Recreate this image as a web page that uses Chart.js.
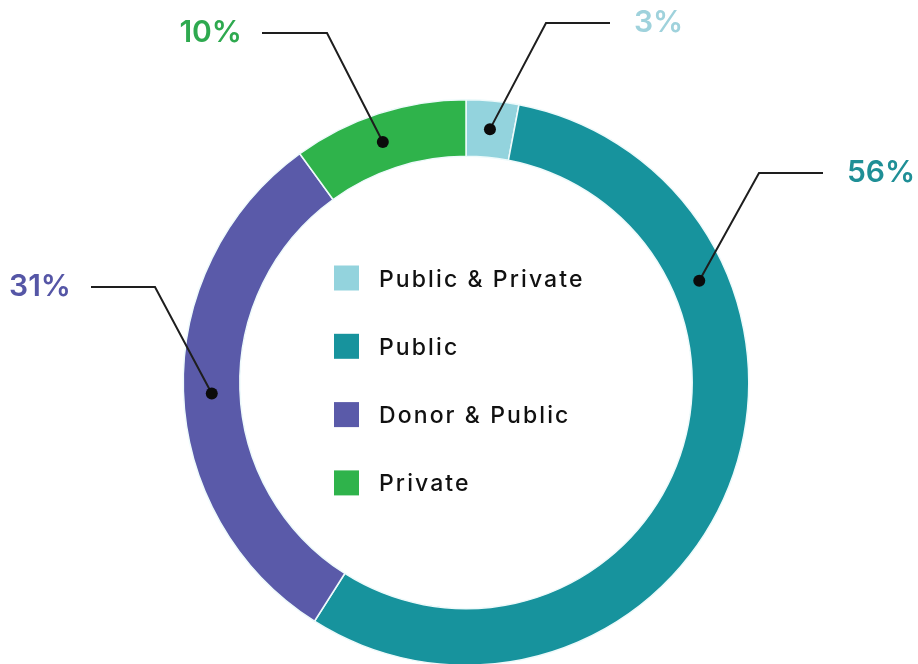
<!DOCTYPE html>
<html>
<head>
<meta charset="utf-8">
<title>Funding sources</title>
<script src="https://cdn.jsdelivr.net/npm/chart.js@4.4.1/dist/chart.umd.min.js"></script>
<style>
  html, body { margin: 0; padding: 0; background: #ffffff; overflow: hidden; }
  canvas { display: block; }
</style>
</head>
<body>
<canvas id="c" width="918" height="666"></canvas>
<script>
const categories = ['Public & Private', 'Public', 'Donor & Public', 'Private'];
const shares = [3, 56, 31, 10];
const valueLabels = ['3%', '56%', '31%', '10%'];
const sliceColors = ['#93d3dd', '#17939d', '#5a5aa9', '#2fb34b'];
const labelColors = ['#9fd2dc', '#1f8f96', '#5556a6', '#2ea94f'];

// Leader lines: dot position along the slice (0..1), elbow point, end of the horizontal run
const leaders = [
  { t: 0.5,   elbow: [546, 23],  end: [610, 23],  side: 'right' },
  { t: 0.276, elbow: [759, 173], end: [823, 173], side: 'right' },
  { t: 0.494, elbow: [155, 287], end: [91, 287],  side: 'left'  },
  { t: 0.47,  elbow: [327, 33],  end: [262, 33],  side: 'left'  }
];

const LABEL_FONT = '600 30px Inter';
const LEGEND_FONT = '500 23px Inter';

// Percent call-outs with leader lines and dots on the ring
const calloutPlugin = {
  id: 'callouts',
  afterDatasetsDraw(chart) {
    const ctx = chart.ctx;
    const arcs = chart.getDatasetMeta(0).data;
    arcs.forEach((arc, i) => {
      const L = leaders[i];
      const p = arc.getProps(['x', 'y', 'startAngle', 'endAngle', 'innerRadius', 'outerRadius'], true);
      const a = p.startAngle + L.t * (p.endAngle - p.startAngle);
      const r = (p.innerRadius + p.outerRadius) / 2;
      const dx = p.x + r * Math.cos(a);
      const dy = p.y + r * Math.sin(a);

      ctx.save();
      ctx.strokeStyle = '#1e1e1e';
      ctx.lineWidth = 2;
      ctx.lineJoin = 'miter';
      ctx.beginPath();
      ctx.moveTo(dx, dy);
      ctx.lineTo(L.elbow[0], L.elbow[1]);
      ctx.lineTo(L.end[0], L.end[1]);
      ctx.stroke();

      ctx.fillStyle = '#0b0b0b';
      ctx.beginPath();
      ctx.arc(dx, dy, 6, 0, Math.PI * 2);
      ctx.fill();

      ctx.font = LABEL_FONT;
      ctx.fillStyle = labelColors[i];
      ctx.textBaseline = 'alphabetic';
      const baseY = L.end[1] - 2 + 11;
      if (L.side === 'right') {
        ctx.textAlign = 'left';
        ctx.fillText(valueLabels[i], L.end[0] + 24, baseY);
      } else {
        ctx.textAlign = 'right';
        ctx.fillText(valueLabels[i], L.end[0] - 20, baseY);
      }
      ctx.restore();
    });
  }
};

// Legend drawn inside the hole of the ring
const centerLegendPlugin = {
  id: 'centerLegend',
  afterDraw(chart) {
    const ctx = chart.ctx;
    const arc = chart.getDatasetMeta(0).data[0];
    const cx = arc.x, cy = arc.y;
    const box = 25, rowGap = 68.3;
    const firstRow = cy - 104.5;
    ctx.save();
    ctx.font = LEGEND_FONT;
    if ('letterSpacing' in ctx) ctx.letterSpacing = '2.1px';
    ctx.textAlign = 'left';
    ctx.textBaseline = 'alphabetic';
    categories.forEach((name, i) => {
      const my = firstRow + i * rowGap;
      ctx.fillStyle = sliceColors[i];
      ctx.fillRect(cx - 132, my - box / 2, box, box);
      ctx.fillStyle = '#111111';
      ctx.fillText(name, cx - 87, my + 8.5);
    });
    ctx.restore();
  }
};

const chart = new Chart(document.getElementById('c'), {
  type: 'doughnut',
  data: {
    labels: categories,
    datasets: [{
      data: shares,
      backgroundColor: sliceColors,
      borderColor: '#eefafb',
      borderWidth: 1.5,
      hoverOffset: 0
    }]
  },
  options: {
    responsive: false,
    animation: false,
    events: [],
    cutout: '80%',
    layout: { padding: { top: 99, left: 14, right: 0, bottom: 0 } },
    plugins: {
      legend: { display: false },
      tooltip: { enabled: false }
    }
  },
  plugins: [calloutPlugin, centerLegendPlugin]
});

if (document.fonts && document.fonts.ready) {
  document.fonts.ready.then(() => chart.draw());
}
</script>
</body>
</html>
